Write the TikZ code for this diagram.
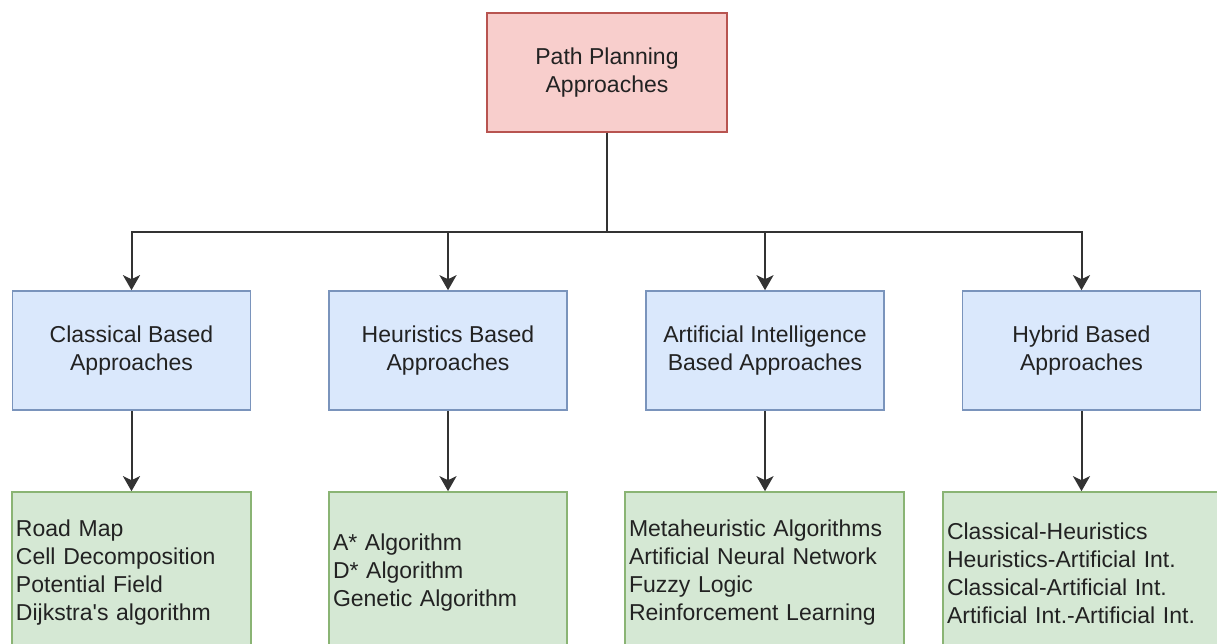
\documentclass[tikz,border=0pt]{standalone}
\usepackage{fontspec}
\setmainfont{Liberation Sans}
\usetikzlibrary{arrows.meta}
\definecolor{rootfill}{HTML}{F8CECC}
\definecolor{rootline}{HTML}{B85450}
\definecolor{catfill}{HTML}{DAE8FC}
\definecolor{catline}{HTML}{7A94BC}
\definecolor{listfill}{HTML}{D5E8D4}
\definecolor{listline}{HTML}{8AB474}
\definecolor{ink}{HTML}{222222}
\definecolor{wire}{HTML}{333333}
\tikzset{
  boxbase/.style={rectangle, line width=1.6pt, text=ink, inner sep=0pt,
    font=\fontsize{23}{28}\selectfont},
  rootbox/.style={boxbase, draw=rootline, fill=rootfill, align=center,
    minimum width=240pt, minimum height=119pt},
  catbox/.style={boxbase, draw=catline, fill=catfill, align=center,
    minimum width=238pt, minimum height=119pt},
  listbox/.style={boxbase, draw=listline, fill=listfill, align=left,
    minimum height=162pt, inner xsep=4pt},
  link/.style={draw=wire, line width=2pt,
    -{Stealth[length=15pt, width=17pt, inset=4pt]}},
}
\begin{document}
\begin{tikzpicture}[x=1pt, y=-1pt]
  \useasboundingbox (0,0) rectangle (1217,644);
  \fill[white] (0,0) rectangle (1217,644);
  \clip (0,0) rectangle (1217,644);

  % root
  \node[rootbox] (root) at (607,72.5) {Path Planning\\Approaches};

  % categories
  \node[catbox] (c1) at (131.5,350.5) {Classical Based\\Approaches};
  \node[catbox] (c2) at (448,350.5) {Heuristics Based\\Approaches};
  \node[catbox] (c3) at (765,350.5) {Artificial Intelligence\\Based Approaches};
  \node[catbox] (c4) at (1081.5,350.5) {Hybrid Based\\Approaches};

  % method lists
  \node[listbox, minimum width=239pt, text width=231pt] (l1) at (131.5,573)
    {Road Map\\Cell Decomposition\\Potential Field\\Dijkstra\textquotesingle s algorithm};
  \node[listbox, minimum width=238pt, text width=230pt] (l2) at (448,573)
    {A* Algorithm\\D* Algorithm\\Genetic Algorithm};
  \node[listbox, minimum width=279pt, text width=271pt] (l3) at (764.5,573)
    {Metaheuristic Algorithms\\Artificial Neural Network\\Fuzzy Logic\\Reinforcement Learning};
  \node[listbox, minimum width=277pt, text width=269pt] (l4) at (1081.5,573)
    {Classical-Heuristics\\Heuristics-Artificial Int.\\Classical-Artificial Int.\\Artificial Int.-Artificial Int.};

  % bus junction below the root
  \coordinate (bus) at (607,232);

  \foreach \c in {c1,c2,c3,c4}
    \draw[link] (root.south) -- (bus) -| (\c.north);

  \draw[link] (c1.south) -- (l1.north);
  \draw[link] (c2.south) -- (l2.north);
  \draw[link] (c3.south) -- (c3.south |- l3.north);
  \draw[link] (c4.south) -- (l4.north);
\end{tikzpicture}
\end{document}
